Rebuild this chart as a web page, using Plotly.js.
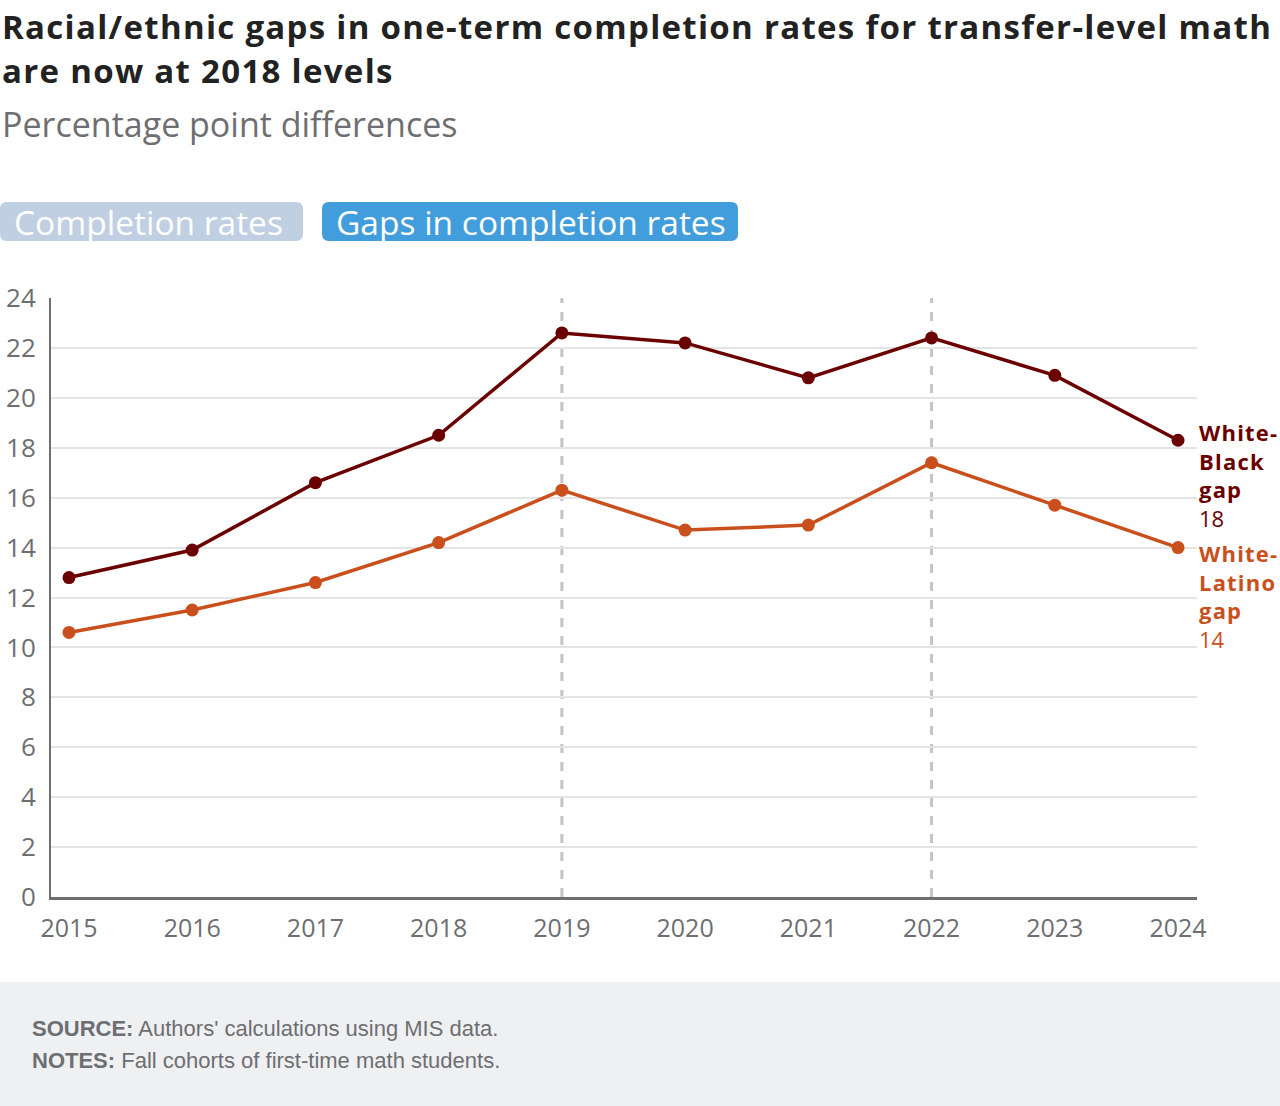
<!DOCTYPE html>
<html>
<head>
<meta charset="utf-8">
<script src="https://cdn.plot.ly/plotly-3.0.1.min.js"></script>
<style>
  html, body { margin: 0; padding: 0; background: #ffffff; }
  #chart { width: 1280px; height: 1106px; }
</style>
</head>
<body>
<div id="chart"></div>
<script>
// ---- Data ----
const years = [2015, 2016, 2017, 2018, 2019, 2020, 2021, 2022, 2023, 2024];
const whiteBlackGap = [12.8, 13.9, 16.6, 18.5, 22.6, 22.2, 20.8, 22.4, 20.9, 18.3];
const whiteLatinoGap = [10.6, 11.5, 12.6, 14.2, 16.3, 14.7, 14.9, 17.4, 15.7, 14.0];
const highlightYears = [2019, 2022];
const yTicks = [0, 2, 4, 6, 8, 10, 12, 14, 16, 18, 20, 22, 24];
const seriesNames = ["White-Black gap", "White-Latino gap"];
const endValueLabels = ["18", "14"];

// ---- Layout helpers (pixel -> paper) ----
const W = 1280, H = 1106;
const L = 51, R = 1197, T = 298, B = 897;
const px = x => (x - L) / (R - L);
const py = y => (B - y) / (B - T);

const darkRed = "#6b0000";
const orange = "#c9501c";
const gray = "#6d6e71";
const font = "'Open Sans', Lato, sans-serif";
const sp = (txt, ls) => `<span style="letter-spacing:${ls}px">${txt}</span>`;

function roundRect(x0, y0, x1, y1, r) {
  const rx = r / (R - L), ry = r / (B - T);
  const X0 = px(x0), X1 = px(x1), Y0 = py(y1), Y1 = py(y0);
  return `M ${X0 + rx} ${Y0} L ${X1 - rx} ${Y0} Q ${X1} ${Y0} ${X1} ${Y0 + ry} ` +
         `L ${X1} ${Y1 - ry} Q ${X1} ${Y1} ${X1 - rx} ${Y1} L ${X0 + rx} ${Y1} ` +
         `Q ${X0} ${Y1} ${X0} ${Y1 - ry} L ${X0} ${Y0 + ry} Q ${X0} ${Y0} ${X0 + rx} ${Y0} Z`;
}

const traces = [
  {
    x: years, y: whiteBlackGap, name: seriesNames[0], type: "scatter", mode: "lines+markers",
    line: { color: darkRed, width: 3.5 }, marker: { color: darkRed, size: 13 },
    cliponaxis: false, hoverinfo: "x+y"
  },
  {
    x: years, y: whiteLatinoGap, name: seriesNames[1], type: "scatter", mode: "lines+markers",
    line: { color: orange, width: 3.5 }, marker: { color: orange, size: 13 },
    cliponaxis: false, hoverinfo: "x+y"
  }
];

const shapes = [
  { type: "rect", xref: "paper", yref: "paper", x0: px(0), x1: px(W), y0: py(H), y1: py(982),
    fillcolor: "#eff0f2", line: { width: 0 }, layer: "below" },
  { type: "path", xref: "paper", yref: "paper", path: roundRect(0, 202, 303, 241, 7),
    fillcolor: "#c0cfe2", line: { width: 0 } },
  { type: "path", xref: "paper", yref: "paper", path: roundRect(322, 202, 738, 241, 7),
    fillcolor: "#419ddb", line: { width: 0 } }
];
highlightYears.forEach(yr => {
  shapes.push({ type: "line", xref: "x", yref: "paper", x0: yr, x1: yr, y0: 0, y1: 1,
    line: { color: "#c4c4c4", width: 3, dash: "dash" }, layer: "below" });
});

const annotations = [
  { xref: "paper", yref: "paper", x: px(0), y: py(26), xanchor: "left", yanchor: "middle",
    align: "left", showarrow: false,
    text: "<b>" + sp("Racial/ethnic gaps in one-term completion rates for transfer-level math", 1.3) + "</b>",
    font: { family: font, size: 33, color: "#222222" } },
  { xref: "paper", yref: "paper", x: px(0), y: py(71), xanchor: "left", yanchor: "middle",
    align: "left", showarrow: false,
    text: "<b>" + sp("are now at 2018 levels", 1.3) + "</b>",
    font: { family: font, size: 33, color: "#222222" } },
  { xref: "paper", yref: "paper", x: px(0), y: py(124), xanchor: "left", yanchor: "middle",
    align: "left", showarrow: false,
    text: "Percentage point differences",
    font: { family: font, size: 34, color: gray } },
  { xref: "paper", yref: "paper", x: px(12), y: py(221.5), xanchor: "left", yanchor: "middle",
    showarrow: false, text: "Completion rates",
    font: { family: font, size: 33.5, color: "#ffffff" } },
  { xref: "paper", yref: "paper", x: px(334), y: py(221.5), xanchor: "left", yanchor: "middle",
    showarrow: false, text: "Gaps in completion rates",
    font: { family: font, size: 33.5, color: "#ffffff" } },
  { xref: "x", yref: "y", x: years[years.length - 1], y: whiteBlackGap[whiteBlackGap.length - 1],
    xanchor: "left", yanchor: "top", xshift: 19, yshift: 25, align: "left", showarrow: false,
    text: "<b>" + sp("White-", 1.2) + "<br>" + sp("Black", 1.2) + "<br>" + sp("gap", 1.2) + "</b><br>" + endValueLabels[0],
    font: { family: font, size: 22, color: darkRed } },
  { xref: "x", yref: "y", x: years[years.length - 1], y: whiteLatinoGap[whiteLatinoGap.length - 1],
    xanchor: "left", yanchor: "top", xshift: 19, yshift: 12, align: "left", showarrow: false,
    text: "<b>" + sp("White-", 1.2) + "<br>" + sp("Latino", 1.2) + "<br>" + sp("gap", 1.2) + "</b><br>" + endValueLabels[1],
    font: { family: font, size: 22, color: orange } },
  { xref: "paper", yref: "paper", x: px(30), y: py(1028), xanchor: "left", yanchor: "middle",
    showarrow: false, align: "left",
    text: "<b>SOURCE:</b> Authors' calculations using MIS data.",
    font: { family: "'Liberation Sans', Arial, sans-serif", size: 22, color: gray } },
  { xref: "paper", yref: "paper", x: px(30), y: py(1060), xanchor: "left", yanchor: "middle",
    showarrow: false, align: "left",
    text: "<b>NOTES:</b> Fall cohorts of first-time math students.",
    font: { family: "'Liberation Sans', Arial, sans-serif", size: 22, color: gray } }
];

const layout = {
  width: W, height: H,
  margin: { l: L, r: W - R, t: T, b: H - B, pad: 0 },
  paper_bgcolor: "#ffffff", plot_bgcolor: "#ffffff",
  showlegend: false,
  font: { family: font, color: gray },
  xaxis: {
    range: [2014.854, 2024.154], tickvals: years, ticktext: years.map(String),
    showgrid: false, zeroline: false, showline: true, linecolor: gray, linewidth: 3,
    ticks: "", ticklabelstandoff: 7, tickfont: { family: font, size: 25, color: gray },
    fixedrange: true
  },
  yaxis: {
    range: [0, 24], tickvals: yTicks, showgrid: true, gridcolor: "#e4e4e4", gridwidth: 2,
    zeroline: false, showline: true, linecolor: gray, linewidth: 2,
    ticks: "", ticklabelstandoff: 8, tickfont: { family: font, size: 26, color: gray },
    fixedrange: true
  },
  shapes: shapes,
  annotations: annotations
};

Plotly.newPlot("chart", traces, layout, { displayModeBar: false });
</script>
</body>
</html>
